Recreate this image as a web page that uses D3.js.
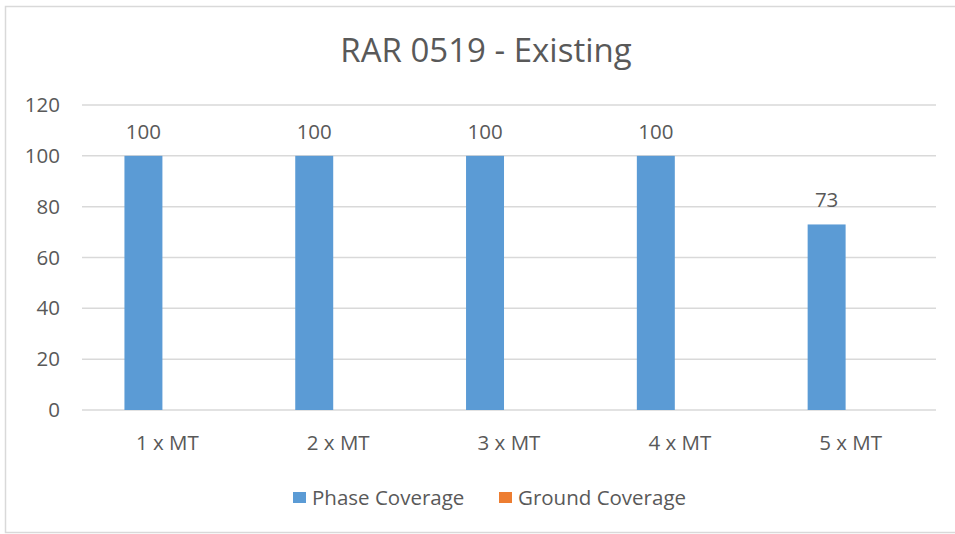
<!DOCTYPE html>
<html><head><meta charset="utf-8">
<script src="https://cdn.jsdelivr.net/npm/d3@7"></script>
<style>body{margin:0;background:#fff;} svg{display:block;} text{font-family:"Open Sans",sans-serif;fill:#595959;}</style>
</head><body>
<svg id="chart" width="955" height="534"></svg>
<script>
const title = "RAR 0519 - Existing";
const categories = ["1 x MT","2 x MT","3 x MT","4 x MT","5 x MT"];
const seriesNames = ["Phase Coverage","Ground Coverage"];
const phaseCoverage = [100,100,100,100,73];
const groundCoverage = [0,0,0,0,0];
const yTicks = [0,20,40,60,80,100,120];
const colors = ["#5b9bd5","#ed7d31"];

const svg = d3.select("#chart");
// chart border
svg.append("rect").attr("x",5.5).attr("y",6.5).attr("width",1000).attr("height",526)
  .attr("fill","none").attr("stroke","#d9d9d9").attr("stroke-width",1.5);

const m = {left:82, right:936, top:105, bottom:410};
const x0 = d3.scaleBand().domain(categories).range([m.left,m.right]).paddingInner(0.497).paddingOuter(0.2485);
const x1 = d3.scaleBand().domain(seriesNames).range([0,x0.bandwidth()]).paddingInner(0.208);
const y = d3.scaleLinear().domain([0,120]).range([m.bottom,m.top]);

// gridlines
svg.append("g").selectAll("line").data(yTicks).join("line")
  .attr("x1",m.left).attr("x2",m.right).attr("y1",d=>y(d)).attr("y2",d=>y(d))
  .attr("stroke","#d9d9d9").attr("stroke-width",1.5);

// y axis labels
const yAxis = d3.axisLeft(y).tickValues(yTicks).tickSize(0).tickPadding(0);
const yg = svg.append("g").attr("transform",`translate(60,0)`).call(yAxis);
yg.select(".domain").remove();
yg.selectAll("text").style("font-size","20.5px").attr("font-family",null).attr("fill","#595959");

// bars
const data = categories.map((c,i)=>({cat:c, vals:[phaseCoverage[i],groundCoverage[i]]}));
const groups = svg.append("g").selectAll("g").data(data).join("g")
  .attr("transform",d=>`translate(${x0(d.cat)},0)`);
groups.selectAll("rect").data(d=>d.vals.map((v,j)=>({s:seriesNames[j],v,j}))).join("rect")
  .attr("x",d=>x1(d.s)).attr("width",x1.bandwidth())
  .attr("y",d=>y(d.v)).attr("height",d=>y(0)-y(d.v))
  .attr("fill",d=>colors[d.j]);
// data labels (phase only)
groups.append("text")
  .attr("x",d=>x1(seriesNames[0])+x1.bandwidth()/2)
  .attr("y",d=>y(d.vals[0])-17)
  .attr("text-anchor","middle").style("font-size","20.5px")
  .text(d=>d.vals[0]);

// x axis labels
const xAxis = d3.axisBottom(x0).tickSize(0).tickPadding(0);
const xg = svg.append("g").attr("transform",`translate(0,450)`).call(xAxis);
xg.select(".domain").remove();
xg.selectAll("text").style("font-size","20.5px").attr("font-family",null).attr("fill","#595959").attr("dy","0");

// title
svg.append("text").attr("x",486).attr("y",62).attr("text-anchor","middle")
  .style("font-size","33px").text(title);

// legend
const legendX = [293,499];
const leg = svg.append("g").selectAll("g").data(seriesNames).join("g")
  .attr("transform",(d,i)=>`translate(${legendX[i]},492)`);
leg.append("rect").attr("width",13).attr("height",11).attr("fill",(d,i)=>colors[i]);
leg.append("text").attr("x",19).attr("y",12.5).style("font-size","20.5px").text(d=>d);
</script>
</body></html>
